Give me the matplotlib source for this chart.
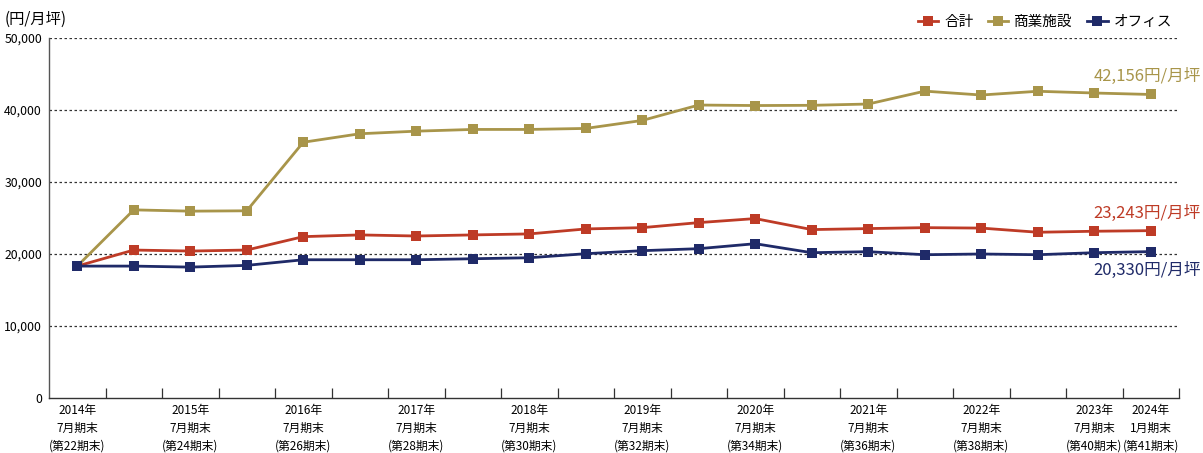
import matplotlib
matplotlib.use("Agg")
import matplotlib.pyplot as plt
import numpy as np

plt.rcParams['font.family'] = ['Noto Sans CJK JP', 'DejaVu Sans']

periods = ["2014年\n7月期末\n(第22期末)", "", "2015年\n7月期末\n(第24期末)", "",
           "2016年\n7月期末\n(第26期末)", "", "2017年\n7月期末\n(第28期末)", "",
           "2018年\n7月期末\n(第30期末)", "", "2019年\n7月期末\n(第32期末)", "",
           "2020年\n7月期末\n(第34期末)", "", "2021年\n7月期末\n(第36期末)", "",
           "2022年\n7月期末\n(第38期末)", "", "2023年\n7月期末\n(第40期末)",
           "2024年\n1月期末\n(第41期末)"]

total = [18320, 20550, 20410, 20550, 22410, 22650, 22500, 22650, 22790, 23480,
         23660, 24360, 24920, 23390, 23530, 23660, 23600, 23020, 23160, 23243]
retail = [18320, 26130, 25950, 26000, 35520, 36700, 37060, 37300, 37300, 37440,
          38550, 40690, 40620, 40650, 40830, 42620, 42080, 42600, 42360, 42156]
office = [18320, 18320, 18180, 18420, 19200, 19200, 19200, 19340, 19480, 20040,
          20460, 20740, 21430, 20180, 20320, 19900, 20000, 19900, 20180, 20330]

series_names = ["合計", "商業施設", "オフィス"]
colors = ["#BE3B26", "#A8954A", "#1F2A68"]
yticks = [0, 10000, 20000, 30000, 40000, 50000]

fig = plt.figure(figsize=(12.03, 4.53), dpi=100)
ax = fig.add_axes([49/1203, 1-398/453, (1179-49)/1203, (398-38)/453])

x = np.arange(len(periods))
for vals, name, c in zip([total, retail, office], series_names, colors):
    ax.plot(x, vals, color=c, lw=2.0, marker='s', markersize=6.5,
            markeredgewidth=0, label=name, zorder=3)

ax.set_xlim(-0.5, len(periods) - 0.5)
ax.set_ylim(0, 50000)
ax.set_yticks(yticks)
ax.set_yticklabels([f"{v:,}" for v in yticks], fontsize=8.8)
ax.tick_params(axis='y', length=0, pad=5)
for v in yticks[1:]:
    ax.axhline(v, color='#333333', lw=0.9, ls=(0, (2, 2)), zorder=1)

ax.set_xticks(x)
ax.set_xticklabels(periods, fontsize=8.5, linespacing=1.5)
ax.tick_params(axis='x', which='major', length=0, pad=4)
ax.set_xticks(np.arange(0.5, len(periods) + 0.5, 1.0), minor=True)
ax.tick_params(axis='x', which='minor', length=7, direction='in', color='#333333', width=0.9)

for s in ['top', 'right']:
    ax.spines[s].set_visible(False)
ax.spines['left'].set_color('#555555')
ax.spines['bottom'].set_color('#333333')
ax.spines['left'].set_linewidth(1.0)
ax.spines['bottom'].set_linewidth(1.0)

fig.text(5/1203, 1-19/453, "(円/月坪)", fontsize=11, va='center', ha='left')

# end labels
ends = [(retail[-1], colors[1], 76), (total[-1], colors[0], 213), (office[-1], colors[2], 270)]
for val, c, ypx in ends:
    fig.text(1201/1203, 1-ypx/453, f"{val:,}円/月坪", color=c, fontsize=12,
             ha='right', va='center')

fig.legend(loc='center right', bbox_to_anchor=(1172/1203, 1-22/453), ncol=3,
           frameon=False, fontsize=10.5, handlelength=1.4, handletextpad=0.4,
           columnspacing=1.0, borderaxespad=0, borderpad=0)

fig.savefig("out.png", dpi=100)
